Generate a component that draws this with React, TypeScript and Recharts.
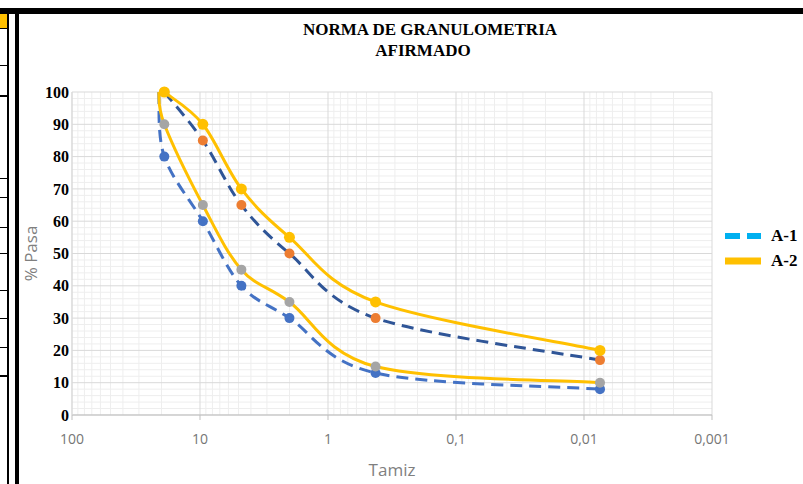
import React from 'react';
import {
  LineChart,
  Line,
  XAxis,
  YAxis,
  ReferenceLine,
  Legend
} from 'recharts';

// Tamiz (mm) y % que pasa
const tamizInicio = [21, 19, 9.5, 4.75, 2, 0.425, 0.0075];
const tamizNorma = [19, 9.5, 4.75, 2, 0.425, 0.0075];
const pasaA1Min = [100, 80, 60, 40, 30, 13, 8];
const pasaA1Max = [100, 85, 65, 50, 30, 17];
const pasaA2Min = [100, 90, 65, 45, 35, 15, 10];
const pasaA2Max = [100, 90, 70, 55, 35, 20];

const xTicks = [100, 10, 1, 0.1, 0.01, 0.001];
const yTicks = [0, 10, 20, 30, 40, 50, 60, 70, 80, 90, 100];
const xMinor = [0.002, 0.003, 0.004, 0.005, 0.006, 0.007, 0.008, 0.009,
  0.02, 0.03, 0.04, 0.05, 0.06, 0.07, 0.08, 0.09,
  0.2, 0.3, 0.4, 0.5, 0.6, 0.7, 0.8, 0.9,
  2, 3, 4, 5, 6, 7, 8, 9,
  20, 30, 40, 50, 60, 70, 80, 90];
const yMinor = [2, 4, 6, 8, 12, 14, 16, 18, 22, 24, 26, 28, 32, 34, 36, 38,
  42, 44, 46, 48, 52, 54, 56, 58, 62, 64, 66, 68, 72, 74, 76, 78,
  82, 84, 86, 88, 92, 94, 96, 98];

const toRows = (xs: number[], ys: number[]) => xs.map((x, i) => ({ x, y: ys[i] }));

// curva suavizada tipo Excel (Catmull-Rom en Bezier)
const excelSmooth = (context: any) => {
  let pts: number[][] = [];
  return {
    areaStart() {},
    areaEnd() {},
    lineStart() { pts = []; },
    point(x: number, y: number) { pts.push([+x, +y]); },
    lineEnd() {
      const n = pts.length;
      if (!n) return;
      context.moveTo(pts[0][0], pts[0][1]);
      for (let i = 0; i < n - 1; i++) {
        const p0 = pts[Math.max(i - 1, 0)];
        const p1 = pts[i];
        const p2 = pts[i + 1];
        const p3 = pts[Math.min(i + 2, n - 1)];
        context.bezierCurveTo(
          p1[0] + (p2[0] - p0[0]) / 6, p1[1] + (p2[1] - p0[1]) / 6,
          p2[0] - (p3[0] - p1[0]) / 6, p2[1] - (p3[1] - p1[1]) / 6,
          p2[0], p2[1]
        );
      }
    }
  };
};

const makeDot = (fill: string, r: number, skipFirst: boolean) => (props: any) => {
  const { cx, cy, index } = props;
  if (skipFirst && index === 0) return <g key={`d${index}`} />;
  return <circle key={`d${index}`} cx={cx} cy={cy} r={r} fill={fill} stroke="none" />;
};

const formatTamiz = (v: number) => String(v).replace('.', ',');

const LegendBox = () => (
  <div style={{ width: 90 }}>
    <div style={{ display: 'flex', alignItems: 'center', height: 25 }}>
      <svg width={40} height={10}>
        <line x1={0} y1={5} x2={36} y2={5} stroke="#00B0F0" strokeWidth={6} strokeDasharray="15 7" />
      </svg>
      <span style={{ marginLeft: 6, fontFamily: '"Liberation Serif", serif', fontWeight: 'bold', fontSize: 17 }}>A-1</span>
    </div>
    <div style={{ display: 'flex', alignItems: 'center', height: 25 }}>
      <svg width={40} height={10}>
        <line x1={0} y1={5} x2={36} y2={5} stroke="#FFC000" strokeWidth={7} />
      </svg>
      <span style={{ marginLeft: 6, fontFamily: '"Liberation Serif", serif', fontWeight: 'bold', fontSize: 17 }}>A-2</span>
    </div>
  </div>
);

const App: React.FC = () => {
  const tickFont = { fontFamily: '"Open Sans", sans-serif', fontSize: 14, fill: '#767676' };
  const titleStyle: React.CSSProperties = {
    position: 'absolute',
    fontFamily: '"Liberation Serif", serif',
    fontWeight: 'bold',
    fontSize: 17,
    whiteSpace: 'nowrap',
    transform: 'translateX(-50%)',
    lineHeight: '20px'
  };

  return (
    <div style={{ position: 'absolute', left: 0, top: 0, width: 803, height: 484, background: '#fff', overflow: 'hidden' }}>
      {/* marco de la hoja */}
      <div style={{ position: 'absolute', left: 0, top: 8, width: 803, height: 6, background: '#000' }} />
      <div style={{ position: 'absolute', left: 0, top: 14, width: 7, height: 14, background: '#FFC000' }} />
      <div style={{ position: 'absolute', left: 7, top: 8, width: 2, height: 476, background: '#000' }} />
      <div style={{ position: 'absolute', left: 15, top: 8, width: 4, height: 476, background: '#000' }} />
      {[28, 65, 95, 178, 197, 227, 253, 290, 318, 347, 375].map((y) => (
        <div key={y} style={{ position: 'absolute', left: 0, top: y, width: 7, height: y === 95 || y === 375 ? 2 : 1, background: '#000' }} />
      ))}

      <div style={{ ...titleStyle, left: 430, top: 20 }}>NORMA DE GRANULOMETRIA</div>
      <div style={{ ...titleStyle, left: 423, top: 41 }}>AFIRMADO</div>

      <div style={{ position: 'absolute', left: 20, top: 0 }}>
        <LineChart width={783} height={484} margin={{ top: 92, right: 91, bottom: 7, left: 12 }}>
          {xMinor.map((v) => (
            <ReferenceLine key={`vx${v}`} x={v} stroke="#eeeeee" strokeWidth={1} />
          ))}
          {yMinor.map((v) => (
            <ReferenceLine key={`hy${v}`} y={v} stroke="#eeeeee" strokeWidth={1} />
          ))}
          {xTicks.map((v) => (
            <ReferenceLine key={`VX${v}`} x={v} stroke="#d9d9d9" strokeWidth={1} />
          ))}
          {yTicks.map((v) => (
            <ReferenceLine key={`HY${v}`} y={v} stroke="#d9d9d9" strokeWidth={1} />
          ))}
          <XAxis
            dataKey="x"
            type="number"
            scale="log"
            domain={[0.001, 100]}
            reversed
            allowDataOverflow
            ticks={xTicks}
            interval={0}
            tickFormatter={formatTamiz}
            stroke="#bfbfbf"
            tickSize={5}
            tickMargin={14}
            height={62}
            tick={tickFont}
            label={{ value: 'Tamiz', position: 'insideBottom', offset: 1, fill: '#7f7f7f', fontFamily: '"Open Sans", sans-serif', fontSize: 17 }}
          />
          <YAxis
            type="number"
            domain={[0, 100]}
            ticks={yTicks}
            interval={0}
            width={40}
            stroke="#d9d9d9"
            tickLine={false}
            tickSize={0}
            tickMargin={3}
            tick={{ fontFamily: '"Liberation Serif", serif', fontWeight: 'bold', fontSize: 16, fill: '#000' }}
            label={{ value: '% Pasa', angle: -90, position: 'center', dx: -21, fill: '#7f7f7f', fontFamily: '"Open Sans", sans-serif', fontSize: 17 }}
          />
          <Legend
            layout="vertical"
            align="center"
            verticalAlign="middle"
            wrapperStyle={{ left: 705, top: 223, width: 90 }}
            content={<LegendBox />}
          />
          <Line
            data={toRows(tamizInicio, pasaA1Min)}
            dataKey="y"
            name="A-1"
            type={excelSmooth as any}
            stroke="#4472C4"
            strokeWidth={3}
            strokeDasharray="12 7"
            dot={makeDot('#4472C4', 5, true)}
            activeDot={false}
            isAnimationActive={false}
          />
          <Line
            data={toRows(tamizNorma, pasaA1Max)}
            dataKey="y"
            name="A-1 max"
            type={excelSmooth as any}
            stroke="#2F5597"
            strokeWidth={3}
            strokeDasharray="12 7"
            dot={makeDot('#ED7D31', 5, false)}
            activeDot={false}
            isAnimationActive={false}
          />
          <Line
            data={toRows(tamizInicio, pasaA2Min)}
            dataKey="y"
            name="A-2"
            type={excelSmooth as any}
            stroke="#FFC000"
            strokeWidth={3}
            dot={makeDot('#A5A5A5', 5, true)}
            activeDot={false}
            isAnimationActive={false}
          />
          <Line
            data={toRows(tamizNorma, pasaA2Max)}
            dataKey="y"
            name="A-2 max"
            type={excelSmooth as any}
            stroke="#FFC000"
            strokeWidth={3}
            dot={makeDot('#FFC000', 5.5, false)}
            activeDot={false}
            isAnimationActive={false}
          />
        </LineChart>
      </div>
    </div>
  );
};

export default App;
